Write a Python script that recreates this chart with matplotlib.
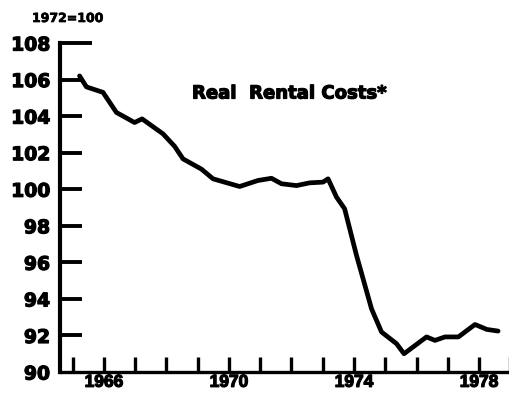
import matplotlib
matplotlib.use("Agg")
import matplotlib.pyplot as plt
import matplotlib.patheffects as pe

# values (index, 1972 = 100)
years = [1965.22, 1965.44, 1965.97, 1966.40, 1966.98, 1967.22, 1967.89, 1968.26,
         1968.53, 1969.12, 1969.49, 1970.34, 1970.93, 1971.36, 1971.68, 1972.16,
         1972.58, 1973.01, 1973.17, 1973.44, 1973.70, 1974.08, 1974.56, 1974.88,
         1975.36, 1975.60, 1976.32, 1976.59, 1976.91, 1977.34, 1977.87, 1978.25,
         1978.61]
rent = [106.2, 105.6, 105.3, 104.2, 103.65, 103.85, 103.03, 102.35,
        101.66, 101.1, 100.57, 100.15, 100.48, 100.6, 100.3, 100.2,
        100.35, 100.39, 100.57, 99.57, 98.93, 96.38, 93.46, 92.19,
        91.55, 91.0, 91.92, 91.73, 91.92, 91.92, 92.6, 92.33,
        92.24]

year_ticks = list(range(1965, 1980))
year_labels = ['1966', '1970', '1974', '1978']
y_ticks = list(range(90, 110, 2))

# heavier type, like the printed original
heavy = [pe.withStroke(linewidth=0.9, foreground='black')]

fig = plt.figure(figsize=(5.1, 4.02), dpi=100)
ax = fig.add_axes([0.1186, 0.0721, 0.882, 0.8184])

ax.plot(years, rent, color='black', lw=3.4, solid_joinstyle='round',
        solid_capstyle='round', clip_on=False)

ax.set_xlim(1964.61, 1979.0)
ax.set_ylim(90, 108)

for s in ['top', 'right']:
    ax.spines[s].set_visible(False)
ax.spines['left'].set_linewidth(3.0)
ax.spines['bottom'].set_linewidth(2.4)

ax.set_xticks(year_ticks)
ax.set_xticklabels([str(y) if str(y) in year_labels else '' for y in year_ticks],
                   fontfamily='Liberation Sans', fontweight='bold', fontsize=12.5)
ax.tick_params(axis='x', direction='in', length=10.8, width=2.4, pad=2)

ax.set_yticks(y_ticks)
ax.set_yticklabels([str(v) for v in y_ticks], fontfamily='DejaVu Sans',
                   fontweight='bold', fontsize=13.5)
ax.tick_params(axis='y', direction='in', length=16, width=2.8, pad=7.5)

for lab in ax.get_xticklabels() + ax.get_yticklabels():
    lab.set_path_effects(heavy)

yt = ax.yaxis.get_major_ticks()
yt[0].tick1line.set_visible(False)
yt[-1].tick1line.set_markersize(23)

fig.text(32 / 510, 1 - 23 / 402, '1972=100', fontfamily='DejaVu Sans',
         fontweight='bold', fontsize=9, va='baseline', ha='left',
         path_effects=[pe.withStroke(linewidth=0.5, foreground='black')])
fig.text(192 / 510, 1 - 99.5 / 402, 'Real  Rental Costs*', fontfamily='DejaVu Sans',
         fontweight='bold', fontsize=13, va='baseline', ha='left',
         path_effects=heavy)

fig.savefig('out.png', dpi=100)
